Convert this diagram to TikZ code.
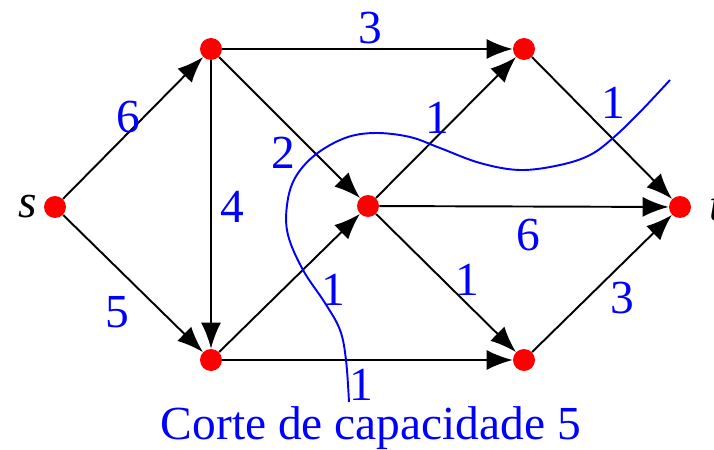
\documentclass[tikz,border=0pt]{standalone}
\usepackage{fontspec}
\setmainfont{Liberation Serif}
\usetikzlibrary{arrows.meta}
\usetikzlibrary{positioning}

\tikzset{
    vertex/.style={circle, fill=red, inner sep=0pt, minimum size=0.44cm},
    arc/.style={-{Latex[length=0.52cm,width=0.4cm]}, line width=1.1pt},
    wt/.style={text=blue, font=\fontsize{27}{29}\selectfont, inner sep=0pt}
}

\begin{document}
\begin{tikzpicture}[x=0.02cm, y=-0.02cm]
    \useasboundingbox (0,0) rectangle (714,450);

    % Vertices
    \node[vertex] (s) at (55,207) {};
    \node[vertex] (a) at (211,49) {};
    \node[vertex] (b) at (211,360) {};
    \node[vertex] (c) at (368,206) {};
    \node[vertex] (d) at (524,49) {};
    \node[vertex] (e) at (524,360) {};
    \node[vertex] (t) at (680,207) {};
    \node[font=\fontsize{27}{29}\selectfont\itshape, inner sep=0pt, left=0.13cm of s] (sl) {s};
    \node[font=\fontsize{27}{29}\selectfont\itshape, inner sep=0pt, right=0.36cm of t] (tl) {t};

    % Arcs
    \foreach \u/\v in {s/a, s/b, a/b, a/c, a/d, b/c, b/e, c/d, c/t, c/e, d/t, e/t} {
        \draw[arc] (\u) -- (\v);
    }

    % Capacities
    \node[wt] (w1) at (370,28) {3};
    \node[wt] (w2) at (128,117) {6};
    \node[wt] (w3) at (117,312) {5};
    \node[wt] (w4) at (232,207) {4};
    \node[wt] (w5) at (283,153) {2};
    \node[wt] (w6) at (437,118) {1};
    \node[wt] (w7) at (613,103) {1};
    \node[wt] (w8) at (528,235) {6};
    \node[wt] (w9) at (467,280) {1};
    \node[wt] (w10) at (622,298) {3};
    \node[wt] (w11) at (333,290) {1};
    \node[wt, anchor=base] (w12) at (361,400) {1};

    % The cut
    \draw[blue, line width=1.1pt] plot[smooth, tension=0.6] coordinates {
        (349,402) (346,360) (340,330) (325,303) (303,270) (288,235)
        (287,205) (295,178) (315,155) (345,138) (375,133) (410,137)
        (440,148) (480,163) (520,170) (560,165) (590,155) (613,138)
        (640,112) (670,80)};
    \node[wt, anchor=base] (cut) at (371,439) {Corte de capacidade 5};
\end{tikzpicture}
\end{document}
